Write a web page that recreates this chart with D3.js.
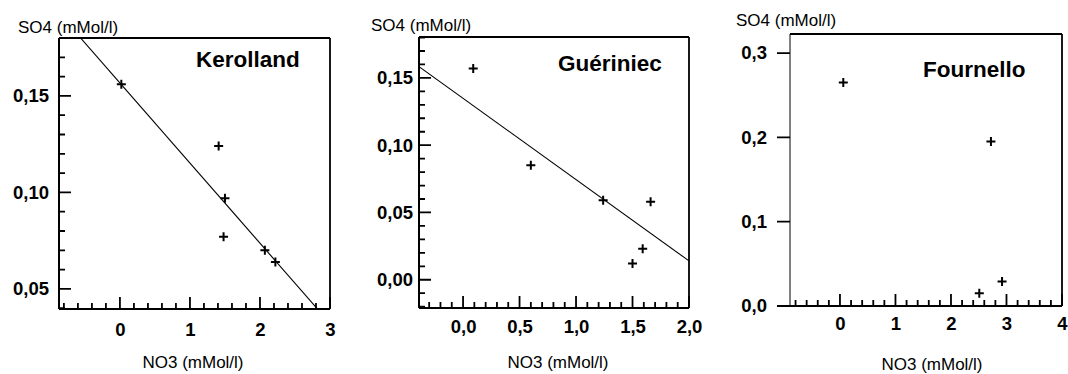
<!DOCTYPE html>
<html><head><meta charset="utf-8">
<script src="https://cdn.jsdelivr.net/npm/d3@7"></script>
<style>
html,body{margin:0;padding:0;background:#fff;color:#000;}
svg{display:block;}
text{font-family:"Liberation Sans",Arial,Helvetica,sans-serif;fill:#000;}
</style></head><body>
<svg id="chart" width="1068" height="374"></svg>
<script>
// ---- data ----
const panelNames = ["Kerolland", "Guériniec", "Fournello"];
const yAxisTitle = "SO4 (mMol/l)";
const xAxisTitle = "NO3 (mMol/l)";

const kerollandNO3 = [0.02, 1.41, 1.50, 1.48, 2.07, 2.22];
const kerollandSO4 = [0.156, 0.124, 0.097, 0.077, 0.070, 0.064];
const kerollandFit = [0.1567, -0.0415];   // intercept, slope

const gueriniecNO3 = [0.09, 0.60, 1.24, 1.66, 1.59, 1.50];
const gueriniecSO4 = [0.157, 0.085, 0.059, 0.058, 0.023, 0.012];
const gueriniecFit = [0.1348, -0.0604];

const fournelloNO3 = [0.06, 2.72, 2.92, 2.51];
const fournelloSO4 = [0.265, 0.195, 0.029, 0.015];

const kerollandXTicks = [0, 1, 2, 3];
const kerollandYTicks = [0.05, 0.10, 0.15];
const gueriniecXTicks = [0, 0.5, 1.0, 1.5, 2.0];
const gueriniecYTicks = [0.00, 0.05, 0.10, 0.15];
const fournelloXTicks = [0, 1, 2, 3, 4];
const fournelloYTicks = [0.0, 0.1, 0.2, 0.3];

// ---- rendering ----
const svg = d3.select("#chart");
const fr = d3.formatLocale({decimal: ",", thousands: ".", grouping: [3], currency: ["", ""]});

const panels = [
  {name: panelNames[0], xs: kerollandNO3, ys: kerollandSO4, fit: kerollandFit,
   xTicks: kerollandXTicks, yTicks: kerollandYTicks, xFmt: fr.format("d"), yFmt: fr.format(".2f"),
   left: 59, top: 38, right: 330, bottom: 309, xDom: [-0.87, 3.0], yDom: [0.0396, 0.180],
   xMinor: 0.2, yMinor: 0.01, yOut: false, xPad: 14, yPad: 10,
   titleX: 196, titleY: 67, yTitleX: 18, yTitleY: 33, xTitleX: 193, xTitleY: 368},
  {name: panelNames[1], xs: gueriniecNO3, ys: gueriniecSO4, fit: gueriniecFit,
   xTicks: gueriniecXTicks, yTicks: gueriniecYTicks, xFmt: fr.format(".1f"), yFmt: fr.format(".2f"),
   left: 419, top: 37, right: 689, bottom: 308, xDom: [-0.39, 2.0], yDom: [-0.021, 0.1804],
   xMinor: 0.1, yMinor: 0.01, yOut: false, xPad: 12, yPad: 6,
   titleX: 558, titleY: 71, yTitleX: 371, yTitleY: 31, xTitleX: 558, xTitleY: 368},
  {name: panelNames[2], xs: fournelloNO3, ys: fournelloSO4, fit: null,
   xTicks: fournelloXTicks, yTicks: fournelloYTicks, xFmt: fr.format("d"), yFmt: fr.format(".1f"),
   left: 790, top: 34, right: 1062, bottom: 306, xDom: [-0.9, 4.0], yDom: [0, 0.3226],
   xMinor: 0.2, yMinor: null, yOut: true, xPad: 11, yPad: 10,
   titleX: 923, titleY: 77, yTitleX: 736, yTitleY: 26, xTitleX: 932, xTitleY: 370}
];

function minorTicks(dom, step, majors) {
  const lo = Math.ceil(dom[0] / step - 1e-6), hi = Math.floor(dom[1] / step + 1e-6);
  const out = [];
  for (let i = lo; i <= hi; i++) {
    const v = +(i * step).toFixed(6);
    if (!majors.some(m => Math.abs(m - v) < 1e-6)) out.push(v);
  }
  return out;
}

panels.forEach(p => {
  const x = d3.scaleLinear().domain(p.xDom).range([p.left, p.right]);
  const y = d3.scaleLinear().domain(p.yDom).range([p.bottom, p.top]);
  const g = svg.append("g");

  // tick marks drawn as one path per panel
  const xm = minorTicks(p.xDom, p.xMinor, p.xTicks);
  let d = "";
  xm.forEach(v => { d += `M${x(v)},${p.bottom}V${p.bottom - 6}`; });
  p.xTicks.forEach(v => { d += `M${x(v)},${p.bottom}V${p.bottom - 12}`; });
  if (p.yMinor) {
    minorTicks(p.yDom, p.yMinor, p.yTicks).forEach(v => { d += `M${p.left},${y(v)}H${p.left + 6}`; });
  }
  p.yTicks.forEach(v => { d += `M${p.left},${y(v)}H${p.yOut ? p.left - 13 : p.left + 12}`; });
  g.append("path").attr("d", d).attr("fill", "none").attr("stroke", "#000").attr("stroke-width", 1.8);

  // tick labels via d3 axes (no tick lines)
  const xa = g.append("g").attr("transform", `translate(0,${p.bottom})`)
    .call(d3.axisBottom(x).tickValues(p.xTicks).tickSize(0)
      .tickPadding(p.xPad).tickFormat(p.xFmt));
  xa.select(".domain").remove();
  xa.selectAll("line").remove();
  xa.selectAll("text").attr("font-size", 18.5).attr("font-weight", "bold").attr("fill", "#000")
    .style("font-family", '"Liberation Sans",Arial,sans-serif');

  const ya = g.append("g").attr("transform", `translate(${p.yOut ? p.left - 13 : p.left},0)`)
    .call(d3.axisLeft(y).tickValues(p.yTicks).tickSize(0)
      .tickPadding(p.yPad).tickFormat(p.yFmt));
  ya.select(".domain").remove();
  ya.selectAll("line").remove();
  ya.selectAll("text").attr("font-size", 18.5).attr("font-weight", "bold").attr("fill", "#000")
    .style("font-family", '"Liberation Sans",Arial,sans-serif');

  // frame
  g.append("line").attr("x1", p.yOut ? p.left - 13 : p.left).attr("x2", p.right)
    .attr("y1", p.bottom).attr("y2", p.bottom).attr("stroke", "#000").attr("stroke-width", 2.2);
  g.append("line").attr("x1", p.left).attr("x2", p.left)
    .attr("y1", p.top).attr("y2", p.bottom).attr("stroke", "#000").attr("stroke-width", p.yOut ? 1 : 2);
  g.append("line").attr("x1", p.left).attr("x2", p.right)
    .attr("y1", p.top).attr("y2", p.top).attr("stroke", "#000").attr("stroke-width", 1.8);
  g.append("line").attr("x1", p.right).attr("x2", p.right)
    .attr("y1", p.top).attr("y2", p.bottom).attr("stroke", "#000").attr("stroke-width", 1.8);

  // regression line, clipped to frame
  if (p.fit) {
    const clipId = "clip" + p.left;
    svg.append("defs").append("clipPath").attr("id", clipId)
      .append("rect").attr("x", p.left).attr("y", p.top)
      .attr("width", p.right - p.left).attr("height", p.bottom - p.top);
    const f = v => p.fit[0] + p.fit[1] * v;
    g.append("path").attr("clip-path", `url(#${clipId})`)
      .attr("d", d3.line()([[x(p.xDom[0]), y(f(p.xDom[0]))], [x(p.xDom[1]), y(f(p.xDom[1]))]]))
      .attr("stroke", "#000").attr("stroke-width", 1.1).attr("fill", "none");
  }

  // points (plus markers)
  g.selectAll("path.pt").data(p.xs.map((v, i) => [v, p.ys[i]])).enter()
    .append("path").attr("class", "pt")
    .attr("transform", d => `translate(${x(d[0])},${y(d[1])})`)
    .attr("d", "M-4.5,0H4.5M0,-4.5V4.5")
    .attr("stroke", "#000").attr("stroke-width", 2);

  // texts
  g.append("text").attr("x", p.titleX).attr("y", p.titleY)
    .attr("font-size", 22.5).attr("font-weight", "bold").text(p.name);
  g.append("text").attr("x", p.yTitleX).attr("y", p.yTitleY)
    .attr("font-size", 17).text(yAxisTitle);
  g.append("text").attr("x", p.xTitleX).attr("y", p.xTitleY).attr("text-anchor", "middle")
    .attr("font-size", 17).text(xAxisTitle);
});
</script>
</body></html>
